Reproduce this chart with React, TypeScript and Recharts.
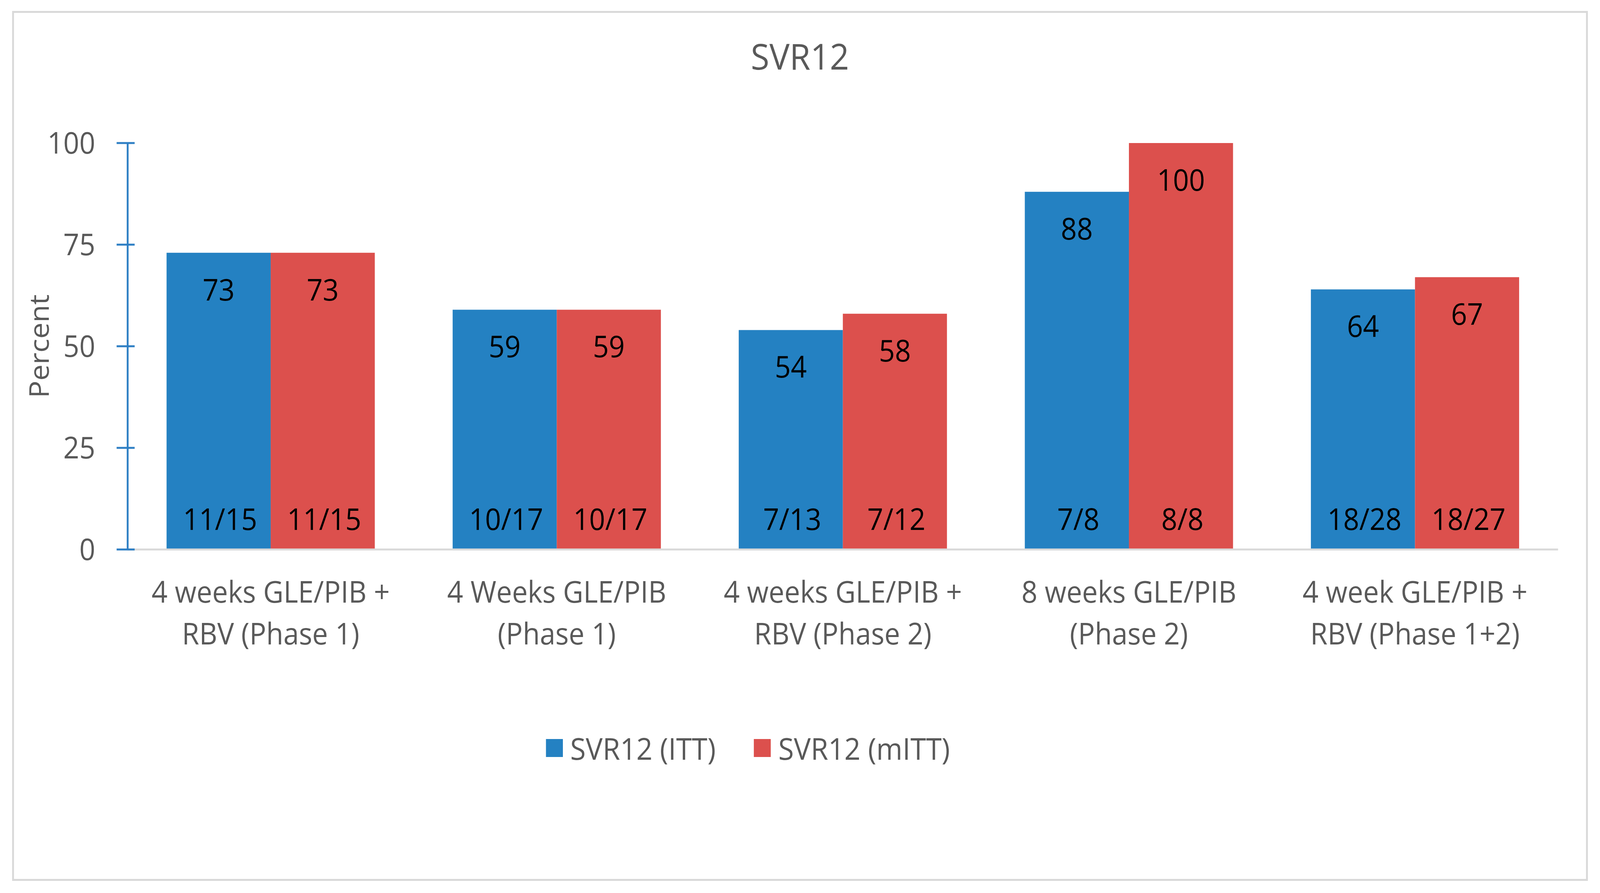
import { BarChart, Bar, XAxis, YAxis, Legend, LabelList, Label } from "recharts";

const categories = [
  ["4 weeks GLE/PIB +", "RBV (Phase 1)"],
  ["4 Weeks GLE/PIB", "(Phase 1)"],
  ["4 weeks GLE/PIB +", "RBV (Phase 2)"],
  ["8 weeks GLE/PIB", "(Phase 2)"],
  ["4 week GLE/PIB +", "RBV (Phase 1+2)"],
];
const ittValues = [73, 59, 54, 88, 64];
const mittValues = [73, 59, 58, 100, 67];
const ittCounts = ["11/15", "10/17", "7/13", "7/8", "18/28"];
const mittCounts = ["11/15", "10/17", "7/12", "8/8", "18/27"];
const yTicks = [0, 25, 50, 75, 100];

const BLUE = "#2481C2";
const RED = "#DC504D";
const AXIS_BLUE = "#2E7FC4";
const GREY_TEXT = "#595959";
const FONT = "'Open Sans', sans-serif";

// the browser viewport is only 4096px wide, so the 4349px design is squeezed to fit
const W = 4349;
const H = 2285;
const VIEW_W = 4096;

const data = categories.map((c, i) => ({
  name: c.join(" "),
  lines: c,
  itt: ittValues[i],
  mitt: mittValues[i],
  ittCount: ittCounts[i],
  mittCount: mittCounts[i],
}));

const YTick = (props: any) => {
  const { x, y, payload } = props;
  return (
    <g>
      <line x1={x - 30} x2={x + 19} y1={y} y2={y} stroke={AXIS_BLUE} strokeWidth={5} />
      <text x={x - 88} y={y + 27} textAnchor="end" fill={GREY_TEXT} fontSize={76} fontFamily={FONT}>
        {payload.value}
      </text>
    </g>
  );
};

const XTick = (props: any) => {
  const { x, y, payload, index } = props;
  const lines = data[index] ? data[index].lines : [payload.value];
  return (
    <text x={x} y={y} textAnchor="middle" fill={GREY_TEXT} fontSize={76} fontFamily={FONT}>
      {lines.map((l: string, i: number) => (
        <tspan key={i} x={x} y={y + 136 + i * 107}>
          {l}
        </tspan>
      ))}
    </text>
  );
};

const CountLabel = (props: any) => {
  const { x, y, width, height, value } = props;
  return (
    <text
      x={x + width / 2 + 4}
      y={y + height - 50}
      textAnchor="middle"
      fill="#000"
      fontSize={76}
      fontFamily={FONT}
    >
      {value}
    </text>
  );
};

const ValueLabel = (props: any) => {
  const { x, y, width, value } = props;
  return (
    <text x={x + width / 2} y={y + 122} textAnchor="middle" fill="#000" fontSize={76} fontFamily={FONT}>
      {value}
    </text>
  );
};

const LegendContent = (props: any) => {
  const { payload } = props;
  return (
    <div
      style={{
        height: 100,
        display: "flex",
        alignItems: "center",
        justifyContent: "flex-start",
        paddingLeft: 1484,
        fontFamily: FONT,
        fontSize: 77,
        color: GREY_TEXT,
      }}
    >
      {payload.map((p: any, i: number) => (
        <div key={i} style={{ display: "flex", alignItems: "center", marginLeft: i ? 104 : 0 }}>
          <div style={{ width: 46, height: 46, background: p.color, marginRight: 20 }} />
          <span>{p.value}</span>
        </div>
      ))}
    </div>
  );
};

export default function App() {
  return (
    <div
      style={{
        position: "absolute",
        left: 0,
        top: 0,
        width: VIEW_W,
        height: H,
        overflow: "hidden",
        background: "#fff",
      }}
    >
      <div
        style={{
          position: "absolute",
          left: 0,
          top: 0,
          width: W,
          height: H,
          transform: `scaleX(${VIEW_W / W})`,
          transformOrigin: "0 0",
        }}
      >
        <div
          style={{
            position: "absolute",
            left: 33,
            top: 28,
            width: 4283,
            height: 2226,
            boxSizing: "border-box",
            border: "5px solid #D9D9D9",
          }}
        />
        <div
          style={{
            position: "absolute",
            left: 0,
            top: 80,
            width: W,
            textAlign: "center",
            fontFamily: FONT,
            fontSize: 92,
            color: GREY_TEXT,
          }}
        >
          SVR12
        </div>
        <div style={{ position: "absolute", left: 0, top: 0 }}>
          <BarChart
            width={W}
            height={H}
            data={data}
            margin={{ top: 366, right: 114, left: 67, bottom: 479 }}
            barCategoryGap="13.6%"
            barGap={0}
          >
            <XAxis
              dataKey="name"
              axisLine={{ stroke: "#D9D9D9", strokeWidth: 5 }}
              tickLine={false}
              tickSize={0}
              tickMargin={0}
              height={300}
              interval={0}
              tick={<XTick />}
            />
            <YAxis
              domain={[0, 100]}
              ticks={yTicks}
              width={280}
              axisLine={{ stroke: AXIS_BLUE, strokeWidth: 5 }}
              tickLine={false}
              tickSize={0}
              tickMargin={0}
              tick={<YTick />}
            >
              <Label
                content={(p: any) => {
                  const vb = p.viewBox || {};
                  const cy = vb.y + vb.height / 2;
                  return (
                    <text
                      x={104}
                      y={cy}
                      transform={`rotate(-90, 104, ${cy})`}
                      textAnchor="middle"
                      dominantBaseline="central"
                      fill={GREY_TEXT}
                      fontSize={74}
                      fontFamily={FONT}
                    >
                      Percent
                    </text>
                  );
                }}
              />
            </YAxis>
            <Legend
              verticalAlign="bottom"
              content={<LegendContent />}
              wrapperStyle={{ top: 1864, left: 0, width: W }}
            />
            <Bar dataKey="itt" name="SVR12 (ITT)" fill={BLUE} isAnimationActive={false}>
              <LabelList dataKey="itt" content={<ValueLabel />} />
              <LabelList dataKey="ittCount" content={<CountLabel />} />
            </Bar>
            <Bar dataKey="mitt" name="SVR12 (mITT)" fill={RED} isAnimationActive={false}>
              <LabelList dataKey="mitt" content={<ValueLabel />} />
              <LabelList dataKey="mittCount" content={<CountLabel />} />
            </Bar>
          </BarChart>
        </div>
      </div>
    </div>
  );
}
